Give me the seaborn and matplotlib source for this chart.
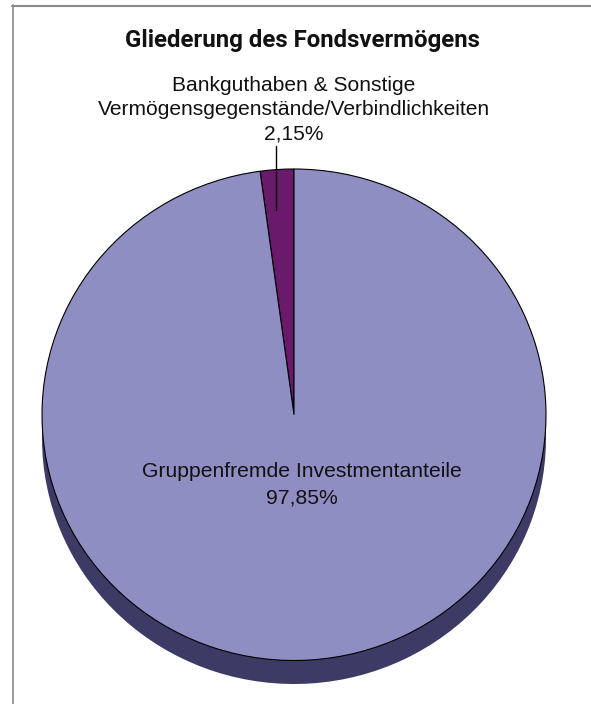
import matplotlib
matplotlib.use("Agg")
import matplotlib.pyplot as plt
import seaborn as sns
from matplotlib.patches import Rectangle
from matplotlib.lines import Line2D

sns.set_theme(style="white")
plt.rcParams['font.family'] = ['Liberation Sans', 'DejaVu Sans']

# ---- data ----
title = "Gliederung des Fondsvermögens"
categories = ["Bankguthaben & Sonstige\nVermögensgegenstände/Verbindlichkeiten",
              "Gruppenfremde Investmentanteile"]
values = [2.15, 97.85]
value_labels = ["2,15%", "97,85%"]
face_colors = ["#6A1A6A", "#8E8EC3"]
side_colors = ["#3A1040", "#3D3B66"]

W, H = 591, 704
fig = plt.figure(figsize=(W / 100, H / 100), dpi=100)
fig.patch.set_facecolor("white")

# pie geometry in figure pixels (top face ellipse + extrusion)
left_px, right_px, top_px, face_bottom_px, side_bottom_px = 42, 546, 169, 660.5, 684
ry = (face_bottom_px - top_px) / 2
depth = (side_bottom_px - face_bottom_px) / ry
ax = fig.add_axes([left_px / W, (H - side_bottom_px) / H,
                   (right_px - left_px) / W, (side_bottom_px - top_px) / H])

# extrusion (side of the disc)
ax.pie(values, colors=side_colors, startangle=90, counterclock=True,
       center=(0, -depth), radius=1, wedgeprops=dict(linewidth=0))
ax.add_patch(Rectangle((-1, -depth), 2, depth, facecolor=side_colors[1],
                       edgecolor="none", zorder=0.5))
# top face
wedges, _ = ax.pie(values, colors=face_colors, startangle=90, counterclock=True,
                   radius=1, wedgeprops=dict(edgecolor="black", linewidth=0.8))
for w in wedges:
    w.set_zorder(3)
ax.set_aspect("auto")
ax.set_xlim(-1, 1)
ax.set_ylim(-1 - depth, 1)
ax.axis("off")

# overlay axes in pixel coordinates for text/frame
ov = fig.add_axes([0, 0, 1, 1], facecolor="none")
ov.set_xlim(0, W)
ov.set_ylim(H, 0)
ov.axis("off")

renderer = fig.canvas.get_renderer()


def fit_size(text, target_w, **kw):
    t = ov.text(0, 0, text, fontsize=10, **kw)
    w = t.get_window_extent(renderer).width
    t.remove()
    return 10 * target_w / w


title_family = ["Roboto", "DejaVu Sans"]
title_fs = fit_size(title, 355, fontweight="bold", family=title_family)
ov.text(302.5, 47, title, ha="center", va="baseline", fontsize=title_fs,
        fontweight="bold", family=title_family, color="#111111")

small_lines = categories[0].split("\n") + [value_labels[0]]
fs_small = fit_size(small_lines[1], 394)
for line, yb in zip(small_lines, [91, 115, 139]):
    ov.text(294, yb, line, ha="center", va="baseline", fontsize=fs_small, color="#111111")
ov.add_line(Line2D([276, 276], [146, 210], color="black", lw=1.0, zorder=5))

big_lines = [categories[1], value_labels[1]]
fs_big = fit_size(big_lines[0], 320)
for line, yb in zip(big_lines, [477, 503]):
    ov.text(302, yb, line, ha="center", va="baseline", fontsize=fs_big, color="#111111")

# frame
ov.add_line(Line2D([12, W], [5.5, 5.5], color="#8a8a8a", lw=1.5))
ov.add_line(Line2D([12.5, 12.5], [5, H], color="#8a8a8a", lw=1.2))

fig.savefig("out.png", dpi=100, facecolor="white")
